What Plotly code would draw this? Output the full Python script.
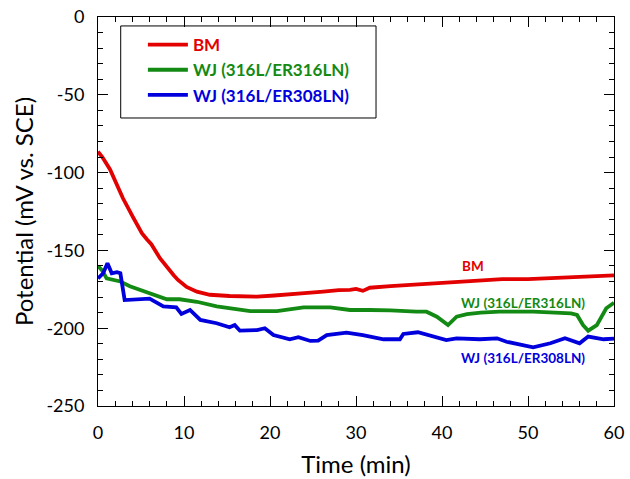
import plotly.graph_objects as go

bm_t = [0, 0.5, 1.4, 2.2, 2.9, 4.1, 5.1, 5.7, 6.2, 7.2, 8.0, 8.8, 9.3, 10.3, 11.5, 13.0, 15.3, 18.5, 20.5, 22.3, 24.0, 26.2, 28.0, 29.3, 30.0, 30.8, 31.6, 34.0, 37.0, 40.0, 42.5, 44.8, 47.0, 50.0, 52.6, 55.0, 57.5, 60.0]
bm_v = [-86.5, -90, -98, -108, -116.5, -129, -139, -143, -146, -155, -161, -166, -169, -173.5, -176.5, -178.5, -179.3, -179.7, -179, -178, -177.5, -176.5, -175.5, -175.4, -174.8, -176, -174, -173, -172, -171, -170, -169, -168.5, -168.5, -168, -167.5, -167, -166]

wj316_t = [0, 0.5, 1.0, 2.6, 3.7, 6.0, 8.0, 9.5, 11.5, 13.8, 15.5, 17.7, 20.8, 23.9, 27.0, 29.3, 31.6, 34.0, 37.0, 38.2, 39.4, 40.7, 41.7, 42.9, 44.5, 46.7, 50.6, 53.0, 55.0, 55.7, 56.4, 57.0, 58.0, 59.1, 60.0]
wj316_v = [-160, -163, -168, -170, -173, -177.6, -181.4, -181.4, -183, -186, -187.5, -189, -189, -186.6, -186.6, -188.3, -188.3, -188.5, -189.4, -189.4, -192.6, -198, -192.6, -191, -190, -189.4, -189.4, -190, -190.5, -191.5, -198, -201.6, -198, -187.2, -183.6]

wj308_t = [0, 0.6, 1.1, 1.6, 2.2, 2.6, 3.1, 4.1, 6.0, 7.6, 9.1, 9.7, 10.7, 11.9, 13.8, 15.3, 15.9, 16.5, 18.5, 19.4, 20.4, 22.3, 23.3, 24.7, 25.6, 26.6, 28.9, 30.8, 33.2, 35.1, 35.5, 37.2, 39.0, 40.5, 41.7, 44.4, 46.4, 47.5, 50.6, 52.6, 54.3, 56.0, 57.0, 58.8, 60.0]
wj308_v = [-168, -164.7, -158.3, -164.7, -164, -164.7, -181.9, -181.4, -181, -186, -186.6, -190.8, -188.3, -194.7, -196.8, -199.4, -198, -201.6, -201.2, -200, -204.4, -207.1, -205.8, -208.2, -208, -204.4, -202.9, -204.4, -207.1, -207.1, -203.7, -202.6, -205.4, -207.6, -206.5, -207.1, -206.5, -208.7, -212.3, -209.7, -206.5, -209.7, -205.4, -207.1, -206.7]

names = ["BM", "WJ (316L/ER316LN)", "WJ (316L/ER308LN)"]
colors = ["#e20000", "#138a13", "#0000dd"]
x_ticks = [0, 10, 20, 30, 40, 50, 60]
y_ticks = [0, -50, -100, -150, -200, -250]
y_tick_labels = ["0", "-50", "-100", "-150", "-200", "-250"]
label_pos = [(43.6, -160), (49.4, -183.8), (49.4, -219)]

FONT = "Lato"
fig = go.Figure()
for t, v, n, c in zip([bm_t, wj316_t, wj308_t], [bm_v, wj316_v, wj308_v], names, colors):
    fig.add_trace(go.Scatter(x=t, y=v, mode="lines",
                             name="<b><span style='color:%s'>%s</span></b>" % (c, n),
                             line=dict(color=c, width=3.8)))

for n, c, (lx, ly) in zip(names, colors, label_pos):
    fig.add_annotation(x=lx, y=ly, text="<b>%s</b>" % n, showarrow=False,
                       font=dict(family=FONT, size=13.5, color=c))

axis_common = dict(showgrid=False, zeroline=False, showline=True, linecolor="black",
                   linewidth=1, mirror="allticks", ticks="inside", ticklen=10,
                   tickcolor="black", automargin=False, ticklabeloverflow="allow",
                   tickfont=dict(family=FONT, size=18, color="black"))

fig.update_xaxes(range=[0, 60], tickvals=x_ticks, ticklabelstandoff=10,
                 title=dict(text="Time (min)",
                            font=dict(family=FONT, size=24, color="black"), standoff=14),
                 minor=dict(dtick=2, ticks="inside", ticklen=5, tickcolor="black"),
                 **axis_common)
fig.update_yaxes(range=[-250, 0], tickvals=y_ticks, ticktext=y_tick_labels,
                 ticklabelstandoff=9,
                 title=dict(text="Potential (mV vs. SCE)",
                            font=dict(family=FONT, size=24, color="black"), standoff=5),
                 minor=dict(dtick=10, ticks="inside", ticklen=5, tickcolor="black"),
                 **axis_common)

fig.add_shape(type="rect", xref="paper", yref="paper", x0=0.0440, x1=0.5388,
              y0=0.7404, y1=0.977, line=dict(color="black", width=1), fillcolor="white",
              layer="below")

fig.update_layout(
    width=630, height=479,
    margin=dict(l=98, r=16, t=17, b=73),
    plot_bgcolor="white", paper_bgcolor="white",
    legend=dict(x=0.087, y=0.974, xanchor="left", yanchor="top",
                bgcolor="rgba(0,0,0,0)", borderwidth=0,
                font=dict(family=FONT, size=17, color="black"), itemwidth=40,
                tracegroupgap=0),
)

# remove the default page margin so the figure fills the 630x479 window exactly
fig.write_html("out.html", config={"displayModeBar": False},
               post_script="document.body.style.margin='0';document.body.style.overflow='hidden';")
